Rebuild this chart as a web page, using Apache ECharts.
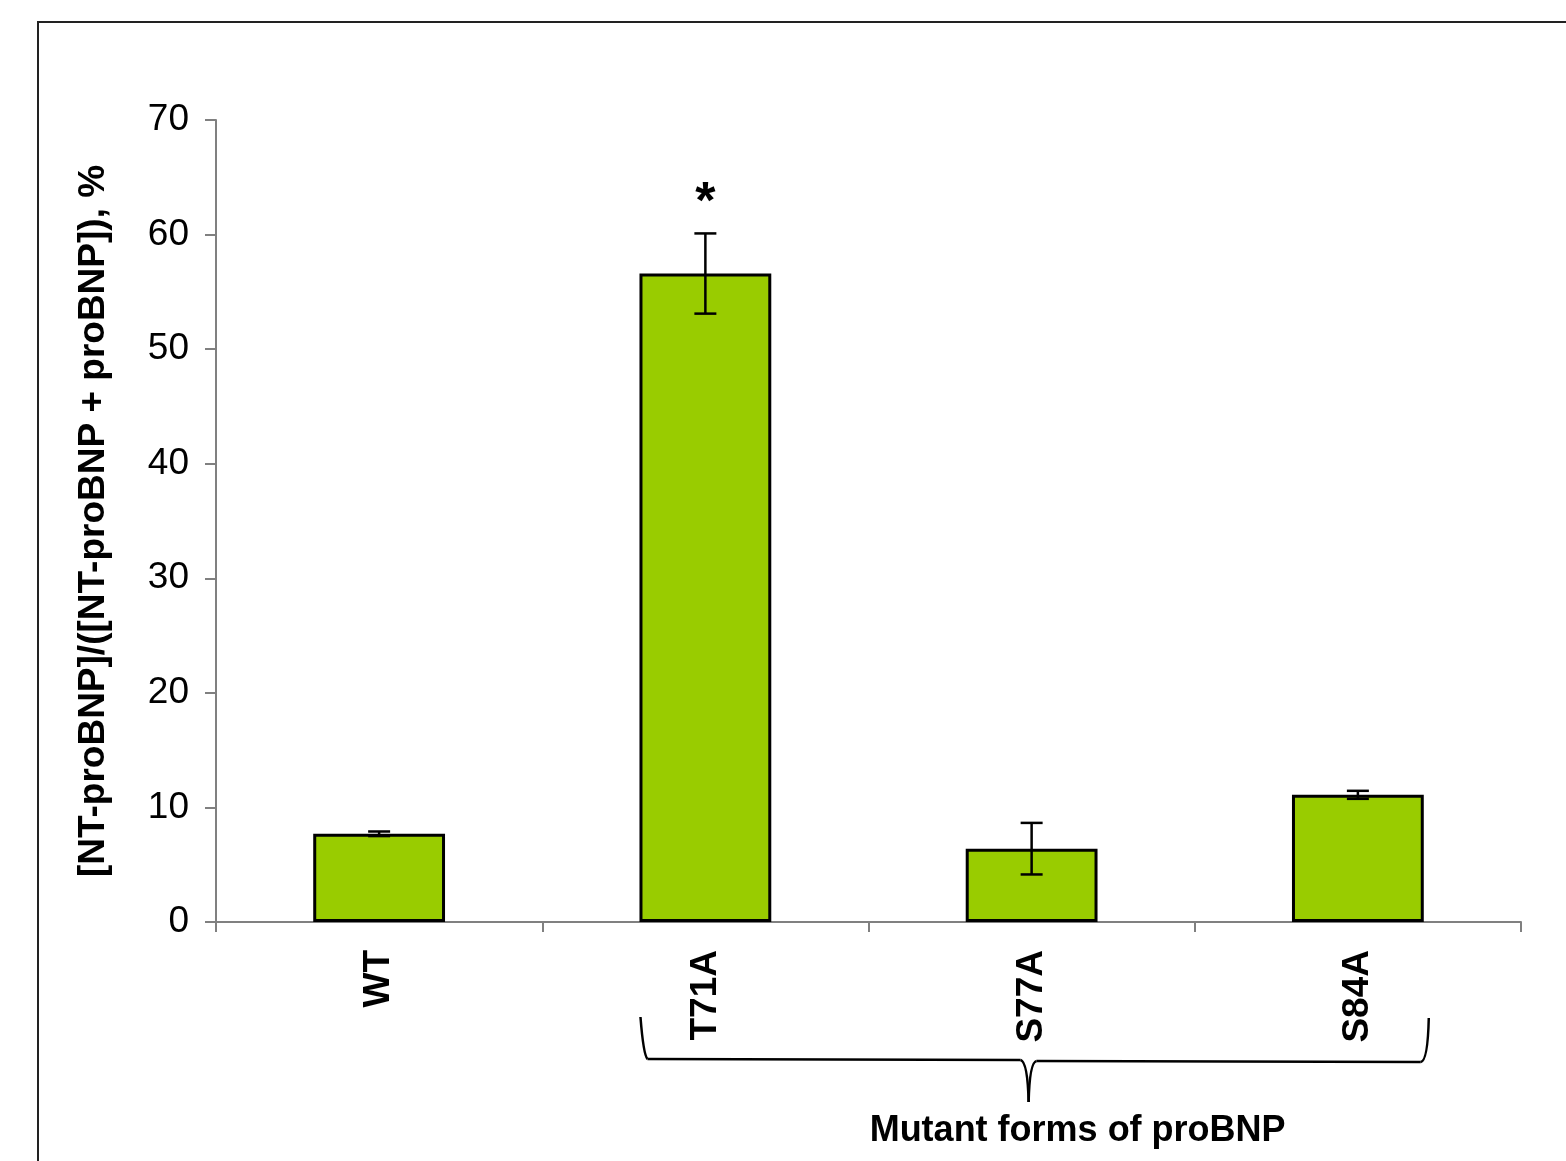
<!DOCTYPE html>
<html>
<head>
<meta charset="utf-8">
<script src="https://cdn.jsdelivr.net/npm/echarts@6/dist/echarts.min.js"></script>
<style>
html,body{margin:0;padding:0;background:#fff;}
#c{width:1566px;height:1161px;}
</style>
</head>
<body>
<div id="c"></div>
<script>
var categories = ['WT', 'T71A', 'S77A', 'S84A'];
var values = [7.7, 56.6, 6.4, 11.1];
var errors = [0.2, 3.5, 2.25, 0.35];
var marks = ['', '*', '', ''];
var yTicks = [0, 10, 20, 30, 40, 50, 60, 70];
var yTitle = '[NT-proBNP]/([NT-proBNP + proBNP]), %';
var groupTitle = 'Mutant forms of proBNP';

var FONT = '"Liberation Sans", Arial, sans-serif';
var chart = echarts.init(document.getElementById('c'), null, {renderer: 'canvas'});

var errData = categories.map(function (c, i) { return [i, values[i], errors[i]]; });

var option = {
  animation: false,
  backgroundColor: '#fff',
  grid: {left: 216, right: 45, top: 120, bottom: 239, containLabel: false},
  xAxis: {
    type: 'category',
    data: categories,
    axisLine: {lineStyle: {color: '#808080', width: 2}},
    axisTick: {show: true, length: 10, lineStyle: {color: '#808080', width: 2}},
    axisLabel: {rotate: 90, margin: 28, fontFamily: FONT, fontWeight: 'bold', fontSize: 37, color: '#000'}
  },
  yAxis: {
    type: 'value',
    min: 0, max: 70, interval: 10,
    name: yTitle,
    nameLocation: 'middle',
    nameGap: 104,
    nameRotate: 90,
    nameTextStyle: {fontFamily: FONT, fontWeight: 'bold', fontSize: 37, color: '#000'},
    splitLine: {show: false},
    axisLine: {show: true, lineStyle: {color: '#808080', width: 2}},
    axisTick: {show: true, inside: false, length: 11, lineStyle: {color: '#808080', width: 2}},
    axisLabel: {margin: 27, fontFamily: FONT, fontSize: 37, color: '#000',
      formatter: function (v) { return yTicks.indexOf(v) >= 0 ? String(v) : ''; }}
  },
  series: [
    {
      type: 'bar',
      data: values,
      barWidth: '40.4%',
      itemStyle: {color: '#99CC00', borderColor: '#000', borderWidth: 3}
    },
    {
      type: 'custom',
      data: errData,
      z: 10,
      renderItem: function (params, api) {
        var i = api.value(0), v = api.value(1), e = api.value(2);
        var top = api.coord([i, v + e]);
        var bot = api.coord([i, v - e]);
        var hw = 11;
        var st = {stroke: '#000', lineWidth: 2.5};
        var children = [
          {type: 'line', shape: {x1: top[0], y1: top[1], x2: bot[0], y2: bot[1]}, style: st},
          {type: 'line', shape: {x1: top[0] - hw, y1: top[1], x2: top[0] + hw, y2: top[1]}, style: st},
          {type: 'line', shape: {x1: bot[0] - hw, y1: bot[1], x2: bot[0] + hw, y2: bot[1]}, style: st}
        ];
        var m = marks[params.dataIndex];
        if (m) {
          children.push({type: 'text', style: {text: m, x: top[0], y: top[1] - 30, align: 'center', verticalAlign: 'middle',
            font: 'bold 52px ' + FONT, fill: '#000'}});
        }
        return {type: 'group', children: children};
      }
    }
  ]
};
chart.setOption(option);

// brace under the mutant categories
var p0 = chart.convertToPixel({xAxisIndex: 0}, 0);
var p1 = chart.convertToPixel({xAxisIndex: 0}, 1);
var p3 = chart.convertToPixel({xAxisIndex: 0}, 3);
var bw = 0.404 * (p1 - p0);
var xL = p1 - bw / 2 + 1;
var xR = p3 + bw / 2 + 5;
var xM = (xL + xR) / 2 - 6;
var yT = 1017, yH = 1059, yTip = 1102;
var bs = {fill: 'none', stroke: '#000', lineWidth: 2.5};

chart.setOption({
  graphic: [
    {type: 'rect', shape: {x: 38, y: 22, width: 1600, height: 1200},
      style: {fill: 'none', stroke: '#222', lineWidth: 2}, silent: true, z: -1},
    {type: 'bezierCurve', shape: {x1: xL, y1: yT, cpx1: xL + 3, cpy1: yH - 4, x2: xL + 7, y2: yH}, style: bs, silent: true},
    {type: 'line', shape: {x1: xL + 7, y1: yH, x2: xM - 8, y2: yH + 1}, style: bs, silent: true},
    {type: 'bezierCurve', shape: {x1: xM - 8, y1: yH + 1, cpx1: xM - 1, cpy1: yH + 3, x2: xM, y2: yTip}, style: bs, silent: true},
    {type: 'bezierCurve', shape: {x1: xM, y1: yTip, cpx1: xM + 1, cpy1: yH + 3, x2: xM + 8, y2: yH + 2}, style: bs, silent: true},
    {type: 'line', shape: {x1: xM + 8, y1: yH + 2, x2: xR - 8, y2: yH + 3}, style: bs, silent: true},
    {type: 'bezierCurve', shape: {x1: xR - 8, y1: yH + 3, cpx1: xR - 1, cpy1: yH + 2, x2: xR, y2: yT + 1}, style: bs, silent: true},
    {type: 'text', x: xM + 49, y: 1131, style: {text: groupTitle, align: 'center', verticalAlign: 'middle',
      font: 'bold 36px "Liberation Sans Narrow", "Liberation Sans", Arial, sans-serif', fill: '#000'}, silent: true}
  ]
});
</script>
</body>
</html>
